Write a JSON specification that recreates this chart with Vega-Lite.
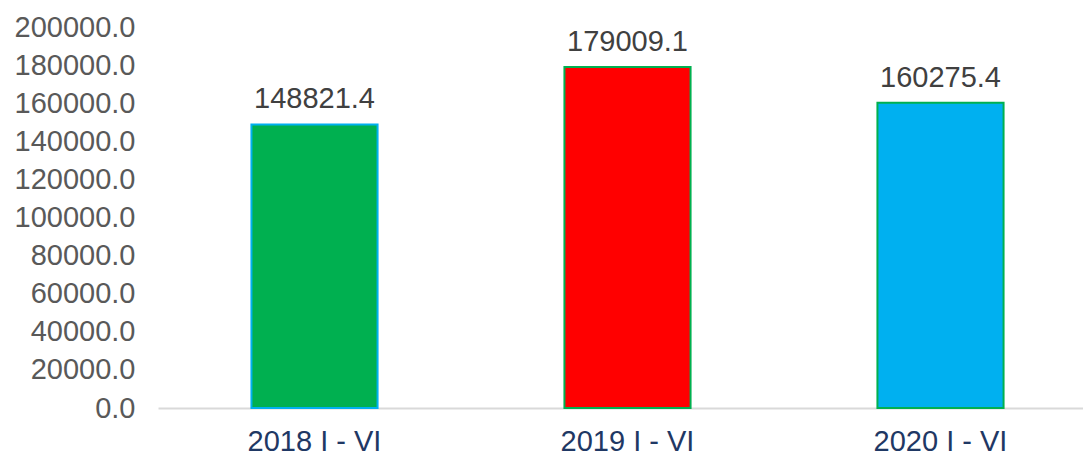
{
  "$schema": "https://vega.github.io/schema/vega-lite/v6.json",
  "width": 939,
  "height": 381,
  "autosize": "none",
  "padding": {"left": 158, "top": 27, "right": 0, "bottom": 48},
  "background": "white",
  "config": {"view": {"stroke": null}, "font": "Liberation Sans"},
  "data": {
    "values": [
      {"period": "2018 I - VI", "value": 148821.4, "fill": "#00B050", "edge": "#00B0F0"},
      {"period": "2019 I - VI", "value": 179009.1, "fill": "#FF0000", "edge": "#00B050"},
      {"period": "2020 I - VI", "value": 160275.4, "fill": "#00B0F0", "edge": "#00B050"}
    ]
  },
  "encoding": {
    "x": {
      "field": "period",
      "type": "nominal",
      "sort": null,
      "scale": {"paddingInner": 0.597, "paddingOuter": 0.2985},
      "axis": {
        "title": null,
        "labelAngle": 0,
        "labelFont": "Liberation Sans",
        "labelFontSize": 29,
        "labelColor": "#1F3864",
        "labelPadding": 19,
        "ticks": false,
        "domainColor": "#D9D9D9",
        "domainWidth": 2
      }
    },
    "y": {
      "field": "value",
      "type": "quantitative",
      "scale": {"domain": [0, 200000], "nice": false},
      "axis": {
        "title": null,
        "values": [0, 20000, 40000, 60000, 80000, 100000, 120000, 140000, 160000, 180000, 200000],
        "format": ".1f",
        "labelFont": "Liberation Sans",
        "labelFontSize": 29,
        "labelColor": "#595959",
        "labelPadding": 23,
        "ticks": false,
        "domain": false,
        "grid": false
      }
    }
  },
  "layer": [
    {
      "mark": {"type": "bar", "strokeWidth": 2},
      "encoding": {
        "fill": {"field": "fill", "type": "nominal", "scale": null},
        "stroke": {"field": "edge", "type": "nominal", "scale": null}
      }
    },
    {
      "mark": {"type": "text", "baseline": "alphabetic", "dy": -16, "fontSize": 29, "color": "#404040", "font": "Liberation Sans"},
      "encoding": {
        "text": {"field": "value", "type": "quantitative", "format": ".1f"}
      }
    }
  ]
}
